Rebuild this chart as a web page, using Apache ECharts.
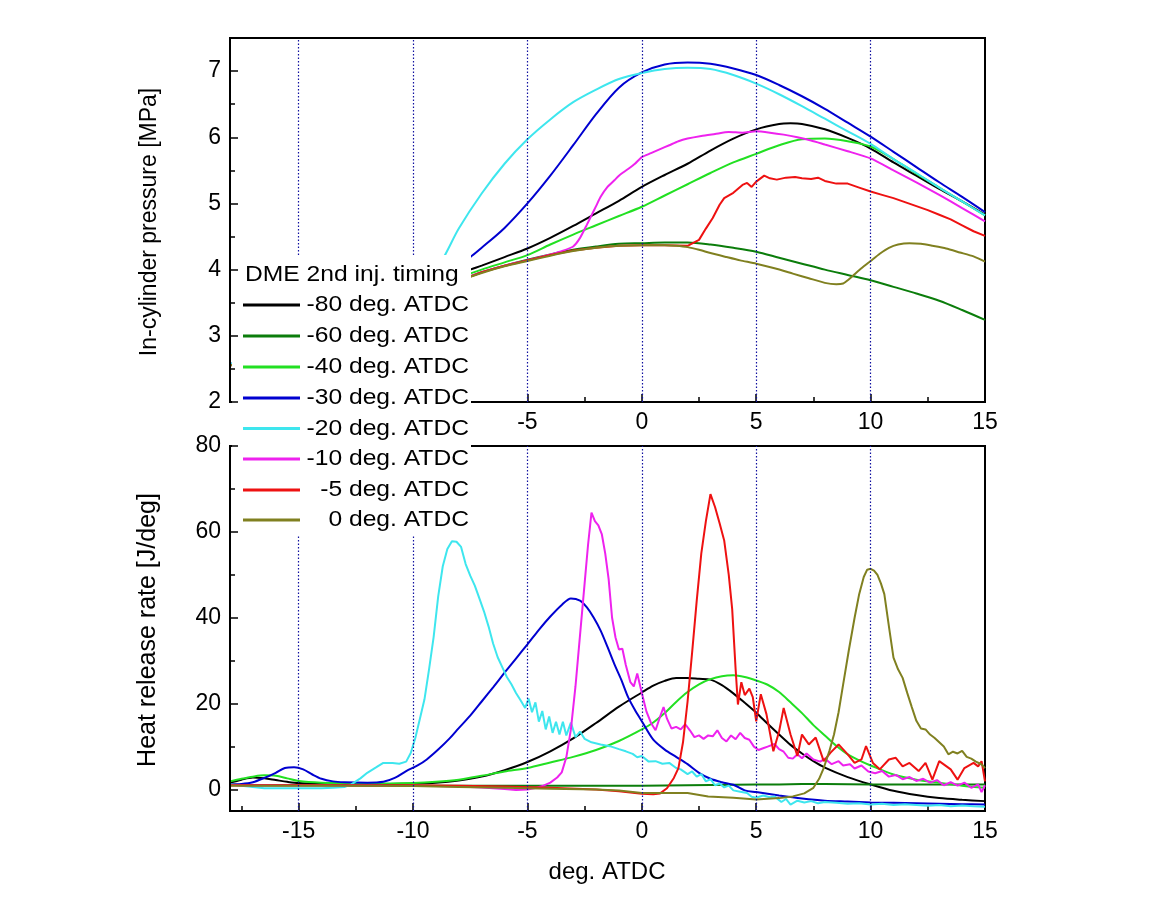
<!DOCTYPE html>
<html>
<head>
<meta charset="utf-8">
<script src="https://cdn.jsdelivr.net/npm/echarts@6/dist/echarts.min.js"></script>
<style>
html,body{margin:0;padding:0;background:#fff;}
#chart{width:1158px;height:901px;}
</style>
</head>
<body>
<div id="chart"></div>
<script>
// ---------- data ----------
const seriesNames = ['-80 deg. ATDC','-60 deg. ATDC','-40 deg. ATDC','-30 deg. ATDC','-20 deg. ATDC','-10 deg. ATDC','-5 deg. ATDC','0 deg. ATDC'];
const legendTitle = 'DME 2nd inj. timing';
const xMajorTicks = [-15,-10,-5,0,5,10,15];
const xMinorTicks = [-17.5,-12.5,-7.5,-2.5,2.5,7.5,12.5];
const gridX = [-15,-10,-5,0,5,10];
const pTicks = [2,3,4,5,6,7];
const pMinor = [2.5,3.5,4.5,5.5,6.5];
const hTicks = [0,20,40,60,80];
const hMinor = [10,30,50,70];

// In-cylinder pressure [MPa]
const p80 = [[-18,2.56],[-17,2.68],[-16,2.8],[-15,2.93],[-14,3.06],[-13,3.2],[-12,3.34],[-11,3.49],[-10,3.64],[-9,3.8],[-8,3.93],[-7.5,4.0],[-7,4.06],[-6,4.19],[-5,4.32],[-4,4.48],[-3,4.66],[-2,4.85],[-1,5.04],[0,5.25],[1,5.43],[2,5.6],[3,5.8],[4,5.98],[5,6.12],[6,6.2],[6.5,6.21],[7,6.2],[8,6.12],[9,5.99],[10,5.83],[11,5.62],[12,5.42],[13,5.22],[14,5.03],[15,4.83]];
const p60 = [[-18,2.55],[-17,2.66],[-16,2.77],[-15,2.89],[-14,3.01],[-13,3.14],[-12,3.27],[-11,3.41],[-10,3.55],[-9,3.69],[-8,3.83],[-7,3.96],[-6,4.06],[-5,4.15],[-4,4.23],[-3,4.3],[-2,4.35],[-1,4.39],[0,4.4],[1,4.41],[2,4.41],[3,4.38],[4,4.33],[5,4.27],[6,4.18],[7,4.09],[8,4.0],[9,3.92],[10,3.84],[11,3.74],[12,3.64],[13,3.53],[14,3.39],[15,3.24]];
const p40 = [[-18,2.56],[-17,2.68],[-16,2.8],[-15,2.92],[-14,3.05],[-13,3.18],[-12,3.32],[-11,3.46],[-10,3.6],[-9,3.75],[-8,3.88],[-7,4.0],[-6,4.11],[-5,4.22],[-4,4.38],[-3,4.53],[-2,4.67],[-1,4.81],[0,4.95],[1,5.12],[2,5.29],[3,5.46],[4,5.62],[5,5.75],[6,5.88],[7,5.97],[8,5.98],[9,5.94],[10,5.86],[11,5.67],[12,5.45],[13,5.24],[14,5.03],[15,4.82]];
const p30 = [[-18,2.57],[-17,2.69],[-16,2.83],[-15,3.0],[-14,3.15],[-13,3.3],[-12,3.45],[-11,3.6],[-10,3.77],[-9,3.97],[-8,4.1],[-7.5,4.19],[-7,4.33],[-6,4.63],[-5,5.0],[-4,5.42],[-3,5.88],[-2,6.35],[-1,6.75],[0,6.98],[1,7.1],[2,7.13],[3,7.11],[4,7.04],[5,6.94],[6,6.79],[7,6.62],[8,6.43],[9,6.22],[10,6.01],[11,5.78],[12,5.55],[13,5.32],[14,5.1],[15,4.87]];
const p20 = [[-18,2.57],[-17,2.69],[-16,2.81],[-15,2.94],[-14,3.07],[-13,3.21],[-12,3.35],[-11,3.52],[-10,3.72],[-9,4.02],[-8.65,4.19],[-8,4.62],[-7,5.15],[-6,5.6],[-5,5.97],[-4,6.27],[-3,6.53],[-2,6.72],[-1,6.88],[0,6.97],[1,7.03],[2,7.05],[3,7.03],[4,6.94],[5,6.81],[6,6.65],[7,6.47],[8,6.28],[9,6.09],[10,5.9],[11,5.67],[12,5.46],[13,5.24],[14,5.03],[15,4.82]];
const p10 = [[-18,2.55],[-17,2.66],[-16,2.77],[-15,2.89],[-14,3.01],[-13,3.14],[-12,3.27],[-11,3.41],[-10,3.55],[-9,3.69],[-8,3.83],[-7,3.96],[-6,4.06],[-5,4.14],[-4,4.23],[-3.5,4.28],[-3,4.35],[-2.7,4.48],[-2.4,4.68],[-2.2,4.82],[-2,4.96],[-1.8,5.1],[-1.5,5.25],[-1.2,5.35],[-1,5.42],[-0.6,5.52],[-0.3,5.6],[0,5.7],[0.4,5.76],[0.8,5.82],[1.2,5.88],[1.6,5.94],[2,5.98],[2.6,6.02],[3.2,6.05],[3.8,6.08],[4.4,6.07],[5,6.09],[5.6,6.07],[6.2,6.04],[6.8,6.0],[7.4,5.95],[8,5.89],[9,5.79],[10,5.68],[11,5.5],[12,5.32],[13,5.13],[14,4.93],[15,4.73]];
const p5 = [[-18,2.55],[-17,2.66],[-16,2.77],[-15,2.89],[-14,3.01],[-13,3.14],[-12,3.27],[-11,3.41],[-10,3.55],[-9,3.69],[-8,3.83],[-7,3.96],[-6,4.06],[-5,4.14],[-4,4.22],[-3,4.29],[-2,4.33],[-1,4.36],[0,4.37],[1,4.37],[2,4.36],[2.5,4.45],[2.8,4.62],[3.1,4.78],[3.4,4.98],[3.6,5.08],[4.0,5.16],[4.4,5.28],[4.6,5.31],[4.8,5.25],[5.0,5.33],[5.35,5.42],[5.6,5.38],[5.9,5.36],[6.3,5.39],[6.7,5.4],[7.0,5.38],[7.4,5.37],[7.7,5.39],[8.0,5.34],[8.5,5.3],[9.0,5.3],[9.5,5.24],[10,5.18],[10.5,5.13],[11,5.08],[11.5,5.02],[12,4.96],[12.5,4.9],[13,4.83],[13.5,4.76],[14,4.67],[14.5,4.58],[15,4.51]];
const p0 = [[-18,2.55],[-17,2.66],[-16,2.77],[-15,2.89],[-14,3.01],[-13,3.14],[-12,3.27],[-11,3.41],[-10,3.55],[-9,3.69],[-8,3.83],[-7,3.95],[-6,4.05],[-5,4.13],[-4,4.21],[-3,4.28],[-2,4.33],[-1,4.36],[0,4.37],[1,4.37],[1.5,4.36],[2,4.34],[2.5,4.3],[3,4.25],[3.7,4.19],[4.3,4.14],[5,4.09],[5.8,4.02],[6.6,3.94],[7.3,3.87],[8,3.8],[8.5,3.78],[8.8,3.79],[9.0,3.84],[9.3,3.93],[9.6,4.02],[10,4.13],[10.4,4.24],[10.8,4.33],[11.2,4.38],[11.7,4.4],[12.2,4.39],[12.7,4.36],[13.3,4.32],[13.9,4.26],[14.5,4.2],[15,4.12]];

// Heat release rate [J/deg]
const h80 = [[-18,1.6],[-17.5,2.3],[-17,2.8],[-16.5,2.6],[-16,2.2],[-15.5,1.8],[-15,1.5],[-14,1.3],[-13,1.2],[-12,1.2],[-11,1.3],[-10,1.4],[-9,1.6],[-8,2.1],[-7,3.0],[-6,4.5],[-5,6.4],[-4,8.9],[-3,11.9],[-2,15.5],[-1,19.3],[0,22.6],[0.5,24.2],[1,25.3],[1.5,26.0],[2,26.0],[2.5,25.8],[3,25.6],[3.5,24.3],[4,22.4],[4.5,20.2],[5,17.9],[5.5,15.3],[6,12.8],[6.5,10.4],[7,8.4],[7.5,6.6],[8,5.1],[9,2.9],[10,1.2],[11,-0.3],[12,-1.3],[13,-2.0],[14,-2.4],[15,-2.7]];
const h60 = [[-18,1.2],[-16,1.0],[-14,1.0],[-12,0.9],[-10,0.9],[-8,0.9],[-6,0.9],[-4,0.9],[-2,0.9],[0,0.9],[2,1.0],[4,1.1],[6,1.2],[8,1.3],[10,1.2],[12,1.2],[14,1.2],[15,1.2]];
const h40 = [[-18,1.9],[-17.5,2.5],[-17,3.0],[-16.5,3.3],[-16,3.2],[-15.5,2.6],[-15,2.0],[-14,1.6],[-13,1.5],[-12,1.4],[-11,1.4],[-10,1.5],[-9,1.8],[-8,2.3],[-7,3.2],[-6,4.2],[-5,5.0],[-4,6.3],[-3,7.6],[-2,9.2],[-1,11.3],[0,14.0],[0.5,15.6],[1,17.8],[1.5,20.4],[2,22.7],[2.5,24.5],[3,25.7],[3.5,26.4],[4,26.6],[4.5,26.2],[5,25.4],[5.5,24.4],[6,22.7],[6.5,20.3],[7,17.8],[7.5,15.0],[8,12.6],[8.5,10.2],[9,8.2],[9.5,6.8],[10,5.6],[11,3.5],[12,2.3],[13,1.6],[14,0.9],[15,0.4]];
const h30 = [[-18,1.2],[-17.5,1.3],[-17,1.7],[-16.5,2.7],[-16,3.9],[-15.6,5.0],[-15.2,5.2],[-14.8,4.7],[-14.4,3.5],[-14,2.5],[-13.5,1.9],[-13,1.7],[-12,1.6],[-11.3,1.8],[-10.8,2.7],[-10.3,4.3],[-9.8,5.6],[-9.4,7.0],[-8.9,9.3],[-8.4,11.9],[-8,14.3],[-7.5,17.2],[-7,20.5],[-6.5,23.8],[-6,27.2],[-5.5,30.5],[-5,33.8],[-4.5,37.2],[-4,40.3],[-3.5,43.0],[-3.1,44.5],[-2.7,44.0],[-2.4,42.4],[-2.1,40.0],[-1.8,37.0],[-1.5,33.2],[-1.2,29.2],[-0.9,25.6],[-0.6,21.5],[-0.3,18.5],[0,15.9],[0.5,11.6],[1,9.3],[1.5,7.6],[2,5.9],[2.5,3.9],[3,2.5],[3.5,1.7],[4,1.1],[4.5,-0.2],[5,-0.6],[6,-1.4],[7,-2.1],[8,-2.6],[9,-2.8],[10,-3.0],[11,-3.1],[12,-3.2],[13,-3.3],[14,-3.4],[15,-3.5]];
const h20 = [[-18,1.2],[-17.5,0.9],[-17,0.6],[-16.5,0.3],[-16,0.3],[-15,0.3],[-14,0.3],[-13.5,0.4],[-13,0.6],[-12.7,1.2],[-12.3,2.6],[-12,3.9],[-11.6,5.2],[-11.3,6.2],[-10.9,6.2],[-10.6,6.0],[-10.3,6.5],[-10.1,8.5],[-9.9,12.0],[-9.7,16.5],[-9.5,21.0],[-9.3,28.0],[-9.1,35.5],[-8.9,45.0],[-8.7,52.0],[-8.5,56.0],[-8.3,57.8],[-8.1,57.7],[-7.9,56.5],[-7.7,52.5],[-7.5,49.8],[-7.3,47.5],[-7.1,44.5],[-6.9,41.5],[-6.7,38.0],[-6.5,34.0],[-6.3,30.8],[-6.1,28.5],[-5.9,26.2],[-5.7,24.5],[-5.5,22.5],[-5.3,20.8],[-5.1,19.0],[-4.95,21.2],[-4.8,18.0],[-4.65,20.3],[-4.5,15.8],[-4.35,18.3],[-4.2,14.0],[-4.05,17.0],[-3.9,13.2],[-3.75,15.8],[-3.6,12.8],[-3.45,15.8],[-3.3,12.6],[-3.1,15.6],[-2.9,12.2],[-2.7,13.5],[-2.5,11.8],[-2.2,11.0],[-1.8,10.5],[-1.4,10.1],[-1.0,9.4],[-0.7,8.9],[-0.4,8.3],[-0.2,7.5],[0,7.8],[0.3,6.5],[0.6,6.6],[0.9,6.0],[1.2,6.2],[1.5,5.0],[1.7,4.7],[2.0,3.6],[2.2,4.2],[2.4,3.0],[2.6,3.6],[2.8,1.9],[3.0,2.4],[3.2,1.0],[3.4,1.4],[3.6,0.5],[3.8,0.9],[4.0,-0.2],[4.3,-0.5],[4.6,-0.8],[4.8,-1.7],[5.0,-1.9],[5.3,-1.4],[5.6,-1.8],[5.8,-1.6],[6.1,-2.9],[6.3,-2.2],[6.5,-3.5],[6.8,-2.6],[7.1,-3.0],[7.4,-2.7],[7.7,-3.2],[8.0,-2.9],[8.5,-3.1],[9,-3.3],[9.5,-3.2],[10,-3.5],[10.5,-3.3],[11,-3.6],[11.5,-3.4],[12,-3.6],[12.5,-3.8],[13,-3.6],[13.5,-3.9],[14,-3.7],[14.5,-3.9],[15,-4.0]];
const h10 = [[-18,1.0],[-17,1.0],[-16,1.0],[-15,1.0],[-14,1.0],[-13,1.0],[-12,1.0],[-11,0.9],[-10,0.9],[-9,0.8],[-8,0.7],[-7,0.5],[-6,0.1],[-5.5,-0.1],[-5,0.0],[-4.6,0.4],[-4.3,0.9],[-4,1.6],[-3.7,2.8],[-3.5,4.0],[-3.3,7.5],[-3.1,14.0],[-2.9,24.0],[-2.7,36.0],[-2.5,48.0],[-2.35,57.0],[-2.2,64.5],[-2.05,62.5],[-1.9,61.5],[-1.75,59.5],[-1.6,55.0],[-1.45,49.0],[-1.3,40.0],[-1.15,35.4],[-1.0,32.6],[-0.85,32.8],[-0.7,29.0],[-0.5,25.0],[-0.35,24.0],[-0.2,27.0],[0,22.5],[0.2,18.2],[0.4,15.5],[0.6,13.8],[0.8,17.0],[0.95,19.2],[1.1,16.5],[1.3,14.2],[1.5,14.6],[1.7,14.0],[1.9,15.2],[2.1,13.8],[2.3,12.2],[2.5,12.6],[2.7,11.8],[2.9,12.6],[3.1,12.4],[3.3,13.8],[3.5,12.0],[3.7,11.2],[3.9,12.6],[4.1,11.7],[4.3,13.2],[4.5,12.0],[4.7,11.6],[4.9,10.0],[5.1,9.2],[5.3,9.6],[5.5,10.0],[5.8,10.6],[6.0,9.4],[6.2,8.8],[6.4,7.4],[6.6,7.2],[6.8,8.2],[7.0,7.3],[7.2,8.4],[7.5,7.0],[7.8,6.5],[8.0,7.2],[8.3,5.9],[8.6,6.6],[8.8,5.6],[9.1,5.9],[9.3,4.9],[9.6,5.6],[9.9,4.2],[10.2,3.8],[10.5,4.3],[10.8,3.0],[11.1,3.4],[11.4,2.4],[11.7,2.9],[12.0,2.0],[12.3,2.5],[12.6,1.6],[12.9,2.2],[13.2,1.0],[13.5,1.7],[13.8,0.9],[14.1,1.6],[14.4,0.4],[14.7,1.2],[14.85,-0.6],[15,1.0]];
const h5 = [[-18,1.0],[-16,1.0],[-14,1.0],[-12,1.0],[-10,1.0],[-8,0.9],[-6,0.7],[-4,0.4],[-2,0.0],[-1,-0.4],[0,-1.0],[0.5,-1.1],[0.8,-0.9],[1.1,0.3],[1.4,2.7],[1.6,5.0],[1.8,11.0],[2.0,20.5],[2.2,32.0],[2.4,44.0],[2.6,55.0],[2.8,62.5],[3.0,68.8],[3.2,65.8],[3.4,62.0],[3.6,58.0],[3.8,50.0],[3.95,42.0],[4.1,28.0],[4.2,19.8],[4.35,25.0],[4.5,22.0],[4.7,23.5],[4.85,21.5],[5.0,15.9],[5.2,22.2],[5.45,17.5],[5.75,8.9],[6.0,13.5],[6.2,19.0],[6.5,12.8],[6.8,7.8],[7.0,12.8],[7.3,10.5],[7.6,12.1],[7.95,6.6],[8.25,8.6],[8.6,10.5],[9.0,8.2],[9.3,6.2],[9.6,7.0],[9.8,10.1],[10.1,6.2],[10.4,4.7],[10.8,7.0],[11.1,7.4],[11.4,5.4],[11.7,6.2],[12.1,4.3],[12.4,6.2],[12.7,2.3],[13.0,6.6],[13.5,4.7],[13.8,2.3],[14.1,5.0],[14.5,6.2],[14.7,5.4],[14.85,6.6],[15.0,1.9]];
const h0 = [[-18,0.9],[-16,0.9],[-14,0.9],[-12,0.9],[-10,0.8],[-8,0.6],[-6,0.4],[-4,0.2],[-2,0.0],[-1,-0.2],[0,-0.8],[1,-0.8],[2,-0.8],[2.9,-1.6],[4,-1.9],[5,-2.3],[6,-2.0],[6.6,-1.6],[7.1,-0.9],[7.5,0.4],[7.75,2.5],[7.95,5.0],[8.2,9.0],[8.4,12.8],[8.6,18.0],[8.8,24.5],[9.05,32.5],[9.3,40.0],[9.5,45.5],[9.7,49.5],[9.85,51.2],[10.0,51.4],[10.15,51.0],[10.3,50.0],[10.45,48.0],[10.6,45.5],[10.8,38.0],[11.0,30.7],[11.2,28.0],[11.4,26.0],[11.6,22.5],[11.8,19.2],[12.0,16.0],[12.2,14.2],[12.4,14.0],[12.6,12.8],[12.8,12.0],[13.0,11.0],[13.2,10.0],[13.4,8.2],[13.6,8.8],[13.8,8.4],[14.0,9.0],[14.2,7.6],[14.4,7.2],[14.6,6.5],[14.8,6.0],[14.9,5.6],[15,5.0]];

const pressureData = [p80,p60,p40,p30,p20,p10,p5,p0];
const hrrData = [h80,h60,h40,h30,h20,h10,h5,h0];

// ---------- styles ----------
const colors = ['#000000','#0b7d0b','#22e022','#0000d0','#3ee6ee','#ee22ee','#ee1111','#808020'];
const smoothP = [0.3,0.3,0.3,0.3,0.3,0.2,0,0.2];
const smoothH = [0.3,0.3,0.3,0.3,0,0,0,0];
const FONT = "'Liberation Sans', Arial, sans-serif";

const G1 = {left:230, top:38, width:755, height:364};
const G2 = {left:230, top:446, width:755, height:365};

function xAxisMain(gi){
  return {
    type:'value', gridIndex:gi, min:-18, max:15, position:'bottom', z:1,
    axisLine:{show:true, onZero:false, lineStyle:{color:'#000', width:2}},
    axisTick:{show:true, inside:true, length:8, customValues:xMajorTicks, lineStyle:{color:'#000', width:1.5}},
    axisLabel:{show:true, customValues:xMajorTicks, margin:9, color:'#000', fontSize:23, fontFamily:FONT},
    splitLine:{show:false}
  };
}
function xAxisMinor(gi){
  return {
    type:'value', gridIndex:gi, min:-18, max:15, position:'bottom', z:1,
    axisLine:{show:false, onZero:false},
    axisTick:{show:true, inside:true, length:5, customValues:xMinorTicks, lineStyle:{color:'#000', width:1.5}},
    axisLabel:{show:false}, splitLine:{show:false}
  };
}
function yAxisMain(gi, mn, mx, ticks){
  return {
    type:'value', gridIndex:gi, min:mn, max:mx, position:'left', z:200,
    axisLine:{show:true, onZero:false, lineStyle:{color:'#000', width:2}},
    axisTick:{show:true, inside:true, length:8, customValues:ticks, lineStyle:{color:'#000', width:1.5}},
    axisLabel:{show:true, customValues:ticks, margin:9, color:'#000', fontSize:23, fontFamily:FONT},
    splitLine:{show:false}
  };
}
function yAxisMinor(gi, mn, mx, ticks){
  return {
    type:'value', gridIndex:gi, min:mn, max:mx, position:'left', z:200,
    axisLine:{show:false, onZero:false},
    axisTick:{show:true, inside:true, length:5, customValues:ticks, lineStyle:{color:'#000', width:1.5}},
    axisLabel:{show:false}, splitLine:{show:false}
  };
}

const gridMarkLine = {
  silent:true, symbol:['none','none'], label:{show:false},
  lineStyle:{color:'#1010a0', type:[1.5,2], width:1.2},
  emphasis:{disabled:true},
  data: gridX.map(v => ({xAxis:v}))
};

const series = [];
pressureData.forEach((d,i) => {
  const s = {type:'line', name:seriesNames[i], xAxisIndex:0, yAxisIndex:0, data:d,
    showSymbol:false, smooth:smoothP[i], lineStyle:{color:colors[i], width:2}, itemStyle:{color:colors[i]}, z:2+i*0.01};
  if(i===0) s.markLine = gridMarkLine;
  series.push(s);
});
hrrData.forEach((d,i) => {
  const s = {type:'line', name:seriesNames[i], xAxisIndex:1, yAxisIndex:1, data:d,
    showSymbol:false, smooth:smoothH[i], lineStyle:{color:colors[i], width:2}, itemStyle:{color:colors[i]}, z:2+i*0.01};
  if(i===0) s.markLine = gridMarkLine;
  series.push(s);
});

// legend drawn as a white box over both panels
const legendX0 = 232, legendY0 = 255, legendW = 239, legendH = 281;
const legendRowY = [305,336,367,398,428.5,459,490,520];
const TXT_SCALE = 1.12;
const legendEls = [
  {type:'rect', z:100, shape:{x:legendX0, y:legendY0, width:legendW, height:legendH}, style:{fill:'#fff'}},
  {type:'text', z:101, x:245, y:275, scaleX:TXT_SCALE, style:{text:legendTitle, fill:'#000', fontSize:22, fontFamily:FONT, align:'left', verticalAlign:'middle', textAlign:'left', textVerticalAlign:'middle'}}
];
seriesNames.forEach((n,i) => {
  legendEls.push({type:'line', z:101, shape:{x1:243, y1:legendRowY[i], x2:300, y2:legendRowY[i]}, style:{stroke:colors[i], lineWidth:3}});
  legendEls.push({type:'text', z:101, x:469, y:legendRowY[i], scaleX:TXT_SCALE, style:{text:n, fill:'#000', fontSize:22, fontFamily:FONT, align:'right', verticalAlign:'middle', textAlign:'right', textVerticalAlign:'middle'}});
});
// axis titles
legendEls.push({type:'text', z:101, x:150, y:222, rotation:Math.PI/2, style:{text:'In-cylinder pressure [MPa]', fill:'#000', fontSize:23, fontFamily:FONT, align:'center', verticalAlign:'middle', textAlign:'center', textVerticalAlign:'middle'}});
legendEls.push({type:'text', z:101, x:148, y:630, rotation:Math.PI/2, style:{text:'Heat release rate [J/deg]', fill:'#000', fontSize:25, fontFamily:FONT, align:'center', verticalAlign:'middle', textAlign:'center', textVerticalAlign:'middle'}});
legendEls.push({type:'text', z:101, x:607, y:872, style:{text:'deg. ATDC', fill:'#000', fontSize:24, fontFamily:FONT, align:'center', verticalAlign:'middle', textAlign:'center', textVerticalAlign:'middle'}});

const option = {
  animation:false,
  backgroundColor:'#fff',
  grid:[
    Object.assign({show:true, borderColor:'#000', borderWidth:2, backgroundColor:'transparent'}, G1),
    Object.assign({show:true, borderColor:'#000', borderWidth:2, backgroundColor:'transparent'}, G2)
  ],
  xAxis:[xAxisMain(0), xAxisMain(1), xAxisMinor(0), xAxisMinor(1)],
  yAxis:[yAxisMain(0,2,7.5,pTicks), yAxisMain(1,-5,80,hTicks), yAxisMinor(0,2,7.5,pMinor), yAxisMinor(1,-5,80,hMinor)],
  series: series,
  graphic:{elements: legendEls}
};

const chart = echarts.init(document.getElementById('chart'), null, {renderer:'canvas'});
chart.setOption(option);
</script>
</body>
</html>
